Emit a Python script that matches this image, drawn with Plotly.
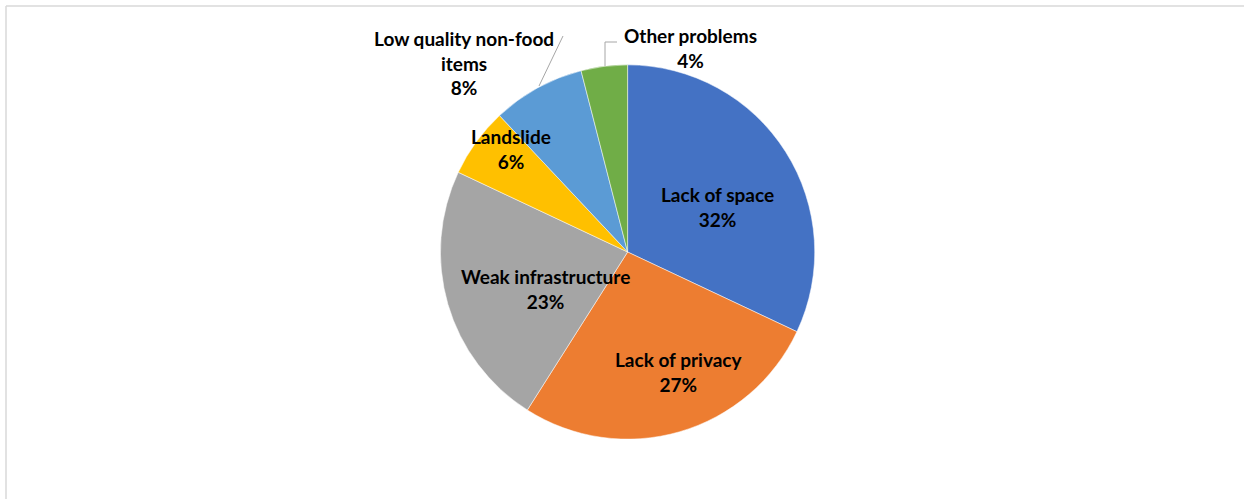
import plotly.graph_objects as go

categories = ["Lack of space", "Lack of privacy", "Weak infrastructure", "Landslide",
              "Low quality non-food items", "Other problems"]
display_labels = ["Lack of space", "Lack of privacy", "Weak infrastructure", "Landslide",
                  "Low quality non-food<br>items", "Other problems"]
values = [32, 27, 23, 6, 8, 4]
colors = ["#4472C4", "#ED7D31", "#A5A5A5", "#FFC000", "#5B9BD5", "#70AD47"]

W, H = 1244, 499
FONT = dict(family="Lato", size=19, color="black", weight="bold")

fig = go.Figure(go.Pie(
    labels=categories,
    values=values,
    textinfo="none",
    sort=False,
    direction="clockwise",
    rotation=0,
    automargin=False,
    marker=dict(colors=colors, line=dict(color="white", width=0.5)),
    showlegend=False,
    hoverinfo="label+percent",
    domain=dict(x=[0.2, 0.809], y=[0.120, 0.870]),
))

total = sum(values)
# Excel "best fit" label placements (pixel centres of label blocks)
label_pos = {0: (717, 207), 1: (678, 372), 2: (545, 289),
             3: (511, 149), 4: (464, 63), 5: (690, 48)}
annotations = []
for i, (px, py) in label_pos.items():
    annotations.append(dict(
        x=px / W, y=1 - py / H, xref="paper", yref="paper",
        xanchor="center", yanchor="middle", showarrow=False,
        text=f"{display_labels[i]}<br>{round(100 * values[i] / total)}%",
        font=FONT, align="center",
    ))

def px_line(x0, y0, x1, y1, color="#A6A6A6", width=1):
    return dict(type="line", xref="paper", yref="paper",
                x0=x0 / W, x1=x1 / W, y0=1 - y0 / H, y1=1 - y1 / H,
                line=dict(color=color, width=width))

shapes = [
    px_line(6, 6, W, 6, color="#D9D9D9", width=1.5),
    px_line(6, 6, 6, H, color="#D9D9D9", width=1.5),
    # leader lines
    px_line(563, 36, 539, 86),
    px_line(617, 42, 605, 42),
    px_line(605, 42, 605, 66),
]

fig.update_layout(
    width=W, height=H,
    margin=dict(l=0, r=0, t=0, b=0, autoexpand=False),
    paper_bgcolor="white",
    plot_bgcolor="white",
    annotations=annotations,
    shapes=shapes,
)

fig.write_html("out.html")
